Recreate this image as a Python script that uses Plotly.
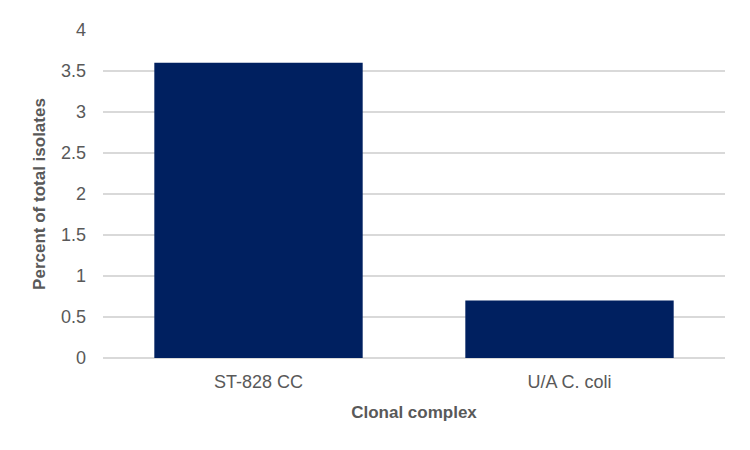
import plotly.graph_objects as go

# clonal complex shares
complexes = ['ST-828 CC', 'U/A C. coli']
percent_isolates = [3.6, 0.7]
y_ticks = [0, 0.5, 1, 1.5, 2, 2.5, 3, 3.5, 4]

fig = go.Figure()
fig.add_trace(go.Bar(x=complexes, y=percent_isolates,
                     marker=dict(color='#002060', line_width=0)))

# page body keeps its 8px default margin, so size the figure to fit inside
fig.update_layout(
    width=734, height=434,
    margin=dict(l=95, r=17, t=15, b=84),
    plot_bgcolor='white', paper_bgcolor='white',
    bargap=0.33,
    showlegend=False,
    font=dict(family='Liberation Sans, Arial', size=18, color='#595959'),
)
fig.update_xaxes(
    title=dict(text='<b>Clonal complex</b>', font=dict(size=17, color='#595959'), standoff=15),
    showgrid=False, showline=False, ticks='', tickfont=dict(size=18),
    ticklabelstandoff=11,
)
fig.update_yaxes(
    title=dict(text='<b>Percent of total isolates</b>', font=dict(size=17, color='#595959'), standoff=11),
    range=[0, 4], tickvals=y_ticks, ticktext=[f'{v:g}' for v in y_ticks],
    showgrid=True, gridcolor='#d9d9d9', gridwidth=1.5,
    zeroline=True, zerolinecolor='#d9d9d9', zerolinewidth=1.5,
    showline=False, ticks='', tickfont=dict(size=18),
    ticklabelstandoff=16,
)

fig.write_html('out.html')
